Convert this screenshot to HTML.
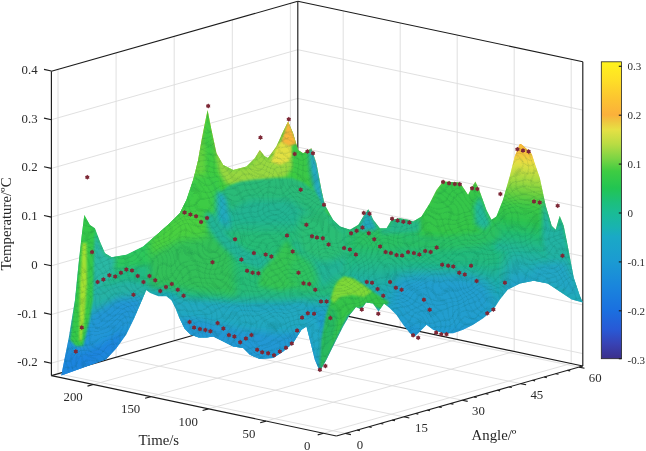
<!DOCTYPE html>
<html><head><meta charset="utf-8"><title>Temperature surface</title>
<style>
html,body{margin:0;padding:0;background:#fff;}
svg{display:block}
.g{stroke:#dcdcdc;stroke-width:0.9;fill:none}
.b{stroke:#1c1c1c;stroke-width:1.15;fill:none;stroke-linecap:butt}
.t{font-family:"Liberation Serif",serif;font-size:12.8px;fill:#2a2a2a}
.c{font-family:"Liberation Serif",serif;font-size:11px;fill:#2a2a2a}
.l{font-family:"Liberation Serif",serif;font-size:14.8px;fill:#262626}
</style></head><body>
<svg width="646" height="451" viewBox="0 0 646 451">
<defs>
<linearGradient id="cbg" x1="0" y1="0" x2="0" y2="1"><stop offset="0.0000" stop-color="#fff31c"/><stop offset="0.0640" stop-color="#fede27"/><stop offset="0.1215" stop-color="#fcc530"/><stop offset="0.1790" stop-color="#fbb03b"/><stop offset="0.1987" stop-color="#f0c43e"/><stop offset="0.2282" stop-color="#e6e044"/><stop offset="0.2775" stop-color="#b9dc43"/><stop offset="0.3268" stop-color="#7ad444"/><stop offset="0.3678" stop-color="#3fcc42"/><stop offset="0.4253" stop-color="#22c552"/><stop offset="0.4745" stop-color="#1cbf7d"/><stop offset="0.5074" stop-color="#1abc94"/><stop offset="0.5567" stop-color="#19b3b0"/><stop offset="0.5895" stop-color="#1aa9c6"/><stop offset="0.6716" stop-color="#1b9bd2"/><stop offset="0.7537" stop-color="#1a86dc"/><stop offset="0.8358" stop-color="#1a70e0"/><stop offset="0.9015" stop-color="#2859d6"/><stop offset="0.9507" stop-color="#3842b4"/><stop offset="1.0000" stop-color="#3b2f8a"/></linearGradient>

<clipPath id="sc"><polygon points="84.3,214.9 89.9,224.9 94.9,228.2 99.9,241.5 104.9,253.2 111.6,257.2 126.5,254.8 143.2,246.5 156.5,234.9 169.8,223.2 179.8,213.2 186.4,199.9 193.1,179.9 198.1,160.0 201.6,139.9 204.5,125.0 207.6,110.0 211.5,130.0 216.5,153.2 223.2,164.9 233.2,169.9 246.5,166.5 254.8,158.2 259.8,149.9 264.8,156.6 268.0,158.0 276.4,146.6 283.1,131.6 288.1,121.6 293.1,133.3 298.1,149.9 303.1,153.2 311.4,148.2 316.4,163.2 321.4,189.8 324.7,204.8 333.0,219.8 340.0,226.5 350.0,229.8 358.3,224.8 363.3,216.5 368.3,209.2 373.3,219.8 379.9,228.2 386.6,228.2 391.6,219.8 399.9,218.2 408.2,219.8 413.2,221.5 421.5,216.5 429.8,203.2 436.5,189.9 443.1,181.6 459.8,182.6 464.8,189.9 468.1,194.9 471.4,188.2 475.4,181.6 479.8,191.5 486.4,209.9 491.4,219.8 496.4,216.5 503.0,199.9 509.7,176.6 514.7,156.6 519.7,144.0 521.0,144.0 528.0,150.0 531.8,154.0 534.7,163.3 539.8,177.9 545.7,205.8 551.7,225.8 555.7,229.8 559.7,215.8 563.7,225.8 567.7,245.7 573.7,277.6 579.7,295.6 582.9,302.4 571.7,299.6 559.7,291.6 547.7,283.6 533.8,280.8 519.8,283.6 507.8,289.6 499.9,299.6 493.1,309.9 483.1,318.2 473.1,324.8 463.1,329.8 453.1,333.2 443.1,333.2 433.2,329.8 426.5,324.8 419.9,331.5 414.9,336.5 409.9,333.2 403.2,324.8 396.6,314.9 389.9,308.2 384.0,303.5 378.5,311.5 373.0,303.5 366.0,302.5 361.5,309.5 356.0,307.0 349.7,314.9 343.1,326.5 334.7,343.1 326.4,359.8 319.8,371.4 314.8,359.8 309.8,339.8 306.5,326.5 301.5,329.8 293.1,343.1 283.2,351.5 273.2,358.1 259.9,359.1 249.9,354.8 243.2,348.1 233.2,346.5 223.3,341.5 213.3,336.5 206.6,337.4 198.6,337.4 190.5,334.4 184.5,328.4 179.5,318.3 175.5,308.2 171.4,300.2 166.4,296.2 158.4,296.2 150.3,293.1 146.3,290.1 140.2,304.2 134.2,318.3 126.2,334.4 116.1,348.5 106.0,359.5 87.6,366.0 61.3,375.6 68.8,337.6 75.0,300.0 78.3,266.5 81.6,236.5"/></clipPath>
<filter id="b1" x="-30%" y="-30%" width="160%" height="160%"><feGaussianBlur stdDeviation="0.8"/></filter>
<filter id="b2" x="-30%" y="-30%" width="160%" height="160%"><feGaussianBlur stdDeviation="2"/></filter>
<filter id="b3" x="-30%" y="-30%" width="160%" height="160%"><feGaussianBlur stdDeviation="3.5"/></filter>
<filter id="b6" x="-30%" y="-30%" width="160%" height="160%"><feGaussianBlur stdDeviation="6"/></filter>
<pattern id="h1" width="10" height="6.2" patternUnits="userSpaceOnUse" patternTransform="rotate(-20)"><line x1="0" y1="2" x2="10" y2="2" stroke="#0b4a3a" stroke-width="0.6"/></pattern>
<pattern id="h2" width="10" height="6.8" patternUnits="userSpaceOnUse" patternTransform="rotate(60)"><line x1="0" y1="2" x2="10" y2="2" stroke="#0b4a3a" stroke-width="0.6"/></pattern>
<pattern id="h3" width="10" height="5.6" patternUnits="userSpaceOnUse" patternTransform="rotate(-58)"><line x1="0" y1="2" x2="10" y2="2" stroke="#0b4a3a" stroke-width="0.6"/></pattern>
<filter id="wob" x="0" y="0" width="100%" height="100%"><feTurbulence type="fractalNoise" baseFrequency="0.03" numOctaves="2" seed="7" result="n"/><feDisplacementMap in="SourceGraphic" in2="n" scale="36" xChannelSelector="R" yChannelSelector="G"/></filter>
<linearGradient id="pk3" x1="532" y1="144" x2="514" y2="292" gradientUnits="userSpaceOnUse"><stop offset="0.0000" stop-color="#f8b83a"/><stop offset="0.0676" stop-color="#f8c23a"/><stop offset="0.1284" stop-color="#e8e044"/><stop offset="0.1824" stop-color="#c8de42"/><stop offset="0.2500" stop-color="#a0da40"/><stop offset="0.3311" stop-color="#6cd040"/><stop offset="0.4189" stop-color="#3cc846"/><stop offset="0.5270" stop-color="#2cc250"/><stop offset="0.6216" stop-color="#22bc74"/><stop offset="0.7162" stop-color="#20b498"/><stop offset="0.8108" stop-color="#20aeb0"/><stop offset="0.9054" stop-color="#20a4c6"/><stop offset="1.0000" stop-color="#209ed0"/></linearGradient>
<linearGradient id="base" x1="0" y1="100" x2="0" y2="380" gradientUnits="userSpaceOnUse"><stop offset="0.0357" stop-color="#fff31c"/><stop offset="0.1250" stop-color="#fcc530"/><stop offset="0.1786" stop-color="#fbb03b"/><stop offset="0.2321" stop-color="#e6e044"/><stop offset="0.3036" stop-color="#9cd843"/><stop offset="0.3679" stop-color="#45cc42"/><stop offset="0.4464" stop-color="#2ec450"/><stop offset="0.5107" stop-color="#28c066"/><stop offset="0.5786" stop-color="#23b984"/><stop offset="0.6429" stop-color="#20b0a2"/><stop offset="0.7143" stop-color="#1fa6c0"/><stop offset="0.7857" stop-color="#209cd0"/><stop offset="0.8571" stop-color="#2090d8"/><stop offset="0.9286" stop-color="#1f84de"/><stop offset="1.0000" stop-color="#1a70e0"/></linearGradient>

</defs>
<rect width="646" height="451" fill="#fff"/>
<line x1="323.5" y1="433.3" x2="571.2" y2="363.5" class="g"/>
<line x1="571.2" y1="363.5" x2="571.2" y2="59.2" class="g"/>
<line x1="265.9" y1="421.1" x2="514.2" y2="351.5" class="g"/>
<line x1="514.2" y1="351.5" x2="514.2" y2="47.2" class="g"/>
<line x1="208.4" y1="408.9" x2="457.2" y2="339.4" class="g"/>
<line x1="457.2" y1="339.4" x2="457.2" y2="35.1" class="g"/>
<line x1="150.8" y1="396.7" x2="400.2" y2="327.3" class="g"/>
<line x1="400.2" y1="327.3" x2="400.2" y2="23.0" class="g"/>
<line x1="93.3" y1="384.5" x2="343.2" y2="315.2" class="g"/>
<line x1="343.2" y1="315.2" x2="343.2" y2="10.9" class="g"/>
<line x1="345.5" y1="433.4" x2="58.0" y2="373.7" class="g"/>
<line x1="58.0" y1="373.7" x2="58.0" y2="69.4" class="g"/>
<line x1="403.9" y1="416.8" x2="116.1" y2="357.2" class="g"/>
<line x1="116.1" y1="357.2" x2="116.1" y2="52.9" class="g"/>
<line x1="462.3" y1="400.2" x2="174.2" y2="340.7" class="g"/>
<line x1="174.2" y1="340.7" x2="174.2" y2="36.4" class="g"/>
<line x1="520.7" y1="383.6" x2="232.3" y2="324.2" class="g"/>
<line x1="232.3" y1="324.2" x2="232.3" y2="19.9" class="g"/>
<line x1="579.1" y1="367.1" x2="290.4" y2="307.7" class="g"/>
<line x1="290.4" y1="307.7" x2="290.4" y2="3.4" class="g"/>
<line x1="51.4" y1="363.2" x2="297.8" y2="293.2" class="g"/>
<line x1="297.8" y1="293.2" x2="582.8" y2="353.6" class="g"/>
<line x1="51.4" y1="314.5" x2="297.8" y2="244.5" class="g"/>
<line x1="297.8" y1="244.5" x2="582.8" y2="304.9" class="g"/>
<line x1="51.4" y1="265.8" x2="297.8" y2="195.8" class="g"/>
<line x1="297.8" y1="195.8" x2="582.8" y2="256.2" class="g"/>
<line x1="51.4" y1="217.1" x2="297.8" y2="147.1" class="g"/>
<line x1="297.8" y1="147.1" x2="582.8" y2="207.5" class="g"/>
<line x1="51.4" y1="168.4" x2="297.8" y2="98.4" class="g"/>
<line x1="297.8" y1="98.4" x2="582.8" y2="158.8" class="g"/>
<line x1="51.4" y1="119.7" x2="297.8" y2="49.7" class="g"/>
<line x1="297.8" y1="49.7" x2="582.8" y2="110.1" class="g"/>
<line x1="51.4" y1="375.6" x2="51.4" y2="71.3" class="b"/>
<line x1="51.4" y1="71.3" x2="297.8" y2="1.3" class="b"/>
<line x1="297.8" y1="1.3" x2="582.8" y2="61.7" class="b"/>
<line x1="582.8" y1="61.7" x2="582.8" y2="366.0" class="b"/>
<line x1="297.8" y1="305.6" x2="297.8" y2="1.3" class="b"/>
<line x1="51.4" y1="375.6" x2="297.8" y2="305.6" class="b"/>
<line x1="297.8" y1="305.6" x2="582.8" y2="366.0" class="b"/>
<line x1="51.4" y1="375.6" x2="336.4" y2="436.0" class="b"/>
<line x1="336.4" y1="436.0" x2="582.8" y2="366.0" class="b"/>
<line x1="51.4" y1="363.2" x2="44.0" y2="361.6" class="b"/>
<line x1="51.4" y1="314.5" x2="44.0" y2="312.9" class="b"/>
<line x1="51.4" y1="265.8" x2="44.0" y2="264.2" class="b"/>
<line x1="51.4" y1="217.1" x2="44.0" y2="215.5" class="b"/>
<line x1="51.4" y1="168.4" x2="44.0" y2="166.8" class="b"/>
<line x1="51.4" y1="119.7" x2="44.0" y2="118.1" class="b"/>
<line x1="51.4" y1="71.0" x2="44.0" y2="69.4" class="b"/>
<line x1="323.5" y1="433.3" x2="317.7" y2="434.9" class="b"/>
<line x1="265.9" y1="421.1" x2="260.2" y2="422.7" class="b"/>
<line x1="208.4" y1="408.9" x2="202.6" y2="410.5" class="b"/>
<line x1="150.8" y1="396.7" x2="145.1" y2="398.3" class="b"/>
<line x1="93.3" y1="384.5" x2="87.5" y2="386.1" class="b"/>
<line x1="345.5" y1="433.4" x2="350.9" y2="434.6" class="b"/>
<line x1="357.2" y1="430.1" x2="359.9" y2="430.7" class="b"/>
<line x1="368.9" y1="426.8" x2="371.6" y2="427.4" class="b"/>
<line x1="380.5" y1="423.5" x2="383.3" y2="424.0" class="b"/>
<line x1="392.2" y1="420.1" x2="395.0" y2="420.7" class="b"/>
<line x1="403.9" y1="416.8" x2="409.3" y2="418.0" class="b"/>
<line x1="415.6" y1="413.5" x2="418.3" y2="414.1" class="b"/>
<line x1="427.3" y1="410.2" x2="430.0" y2="410.8" class="b"/>
<line x1="438.9" y1="406.9" x2="441.7" y2="407.4" class="b"/>
<line x1="450.6" y1="403.6" x2="453.4" y2="404.1" class="b"/>
<line x1="462.3" y1="400.2" x2="467.7" y2="401.4" class="b"/>
<line x1="474.0" y1="396.9" x2="476.7" y2="397.5" class="b"/>
<line x1="485.7" y1="393.6" x2="488.4" y2="394.2" class="b"/>
<line x1="497.3" y1="390.3" x2="500.1" y2="390.9" class="b"/>
<line x1="509.0" y1="387.0" x2="511.8" y2="387.5" class="b"/>
<line x1="520.7" y1="383.6" x2="526.1" y2="384.8" class="b"/>
<line x1="532.4" y1="380.3" x2="535.1" y2="380.9" class="b"/>
<line x1="544.1" y1="377.0" x2="546.8" y2="377.6" class="b"/>
<line x1="555.7" y1="373.7" x2="558.5" y2="374.3" class="b"/>
<line x1="567.4" y1="370.4" x2="570.2" y2="370.9" class="b"/>
<line x1="579.1" y1="367.1" x2="584.5" y2="368.2" class="b"/>
<g clip-path="url(#sc)">
<rect x="50" y="100" width="540" height="280" fill="url(#base)"/>
<polygon points="150.0,250.0 170.0,222.0 186.0,200.0 195.0,170.0 203.0,105.0 212.0,105.0 220.0,160.0 240.0,170.0 262.0,150.0 270.0,158.0 285.0,120.0 295.0,120.0 300.0,150.0 312.0,146.0 326.0,205.0 330.0,250.0" fill="#3ccc42" filter="url(#b3)"/>
<polygon points="217.0,156.0 232.0,170.0 248.0,166.0 256.0,157.0 260.0,149.0 265.0,157.0 269.0,158.0 277.0,146.0 283.0,140.0 292.0,148.0 293.0,166.0 286.0,177.0 266.0,181.0 244.0,187.0 226.0,184.0 219.0,172.0" fill="#98d840" filter="url(#b2)"/>
<polygon points="271.0,162.0 277.0,146.0 281.5,141.0 290.0,144.0 293.0,151.0 289.0,161.0 280.0,165.0" fill="#e2e042" filter="url(#b1)"/>
<polygon points="281.0,142.0 285.0,130.0 288.0,118.0 293.5,133.0 297.0,144.0 290.0,146.0" fill="#f8b63a" filter="url(#b1)"/>
<polygon points="292.0,147.0 297.0,144.0 299.0,150.0 303.0,153.5 310.0,150.0 313.0,170.0 316.0,196.0 304.0,184.0 294.0,172.0" fill="#3ac846" filter="url(#b1)"/>
<polygon points="197.0,162.0 202.0,138.0 205.0,150.0 206.0,190.0 200.0,214.0 187.0,214.0 191.0,195.0" fill="#62d23e" filter="url(#b2)"/>
<polygon points="309.0,152.0 312.0,146.0 318.0,163.0 324.0,200.0 327.0,209.0 320.0,207.0 314.0,190.0 310.0,168.0" fill="#20a8c6" filter="url(#b2)"/>
<polygon points="207.0,240.0 210.0,214.0 214.0,203.0 220.0,193.0 228.0,186.0 240.0,181.5 255.0,179.5 275.0,178.0 292.0,178.0 303.0,182.0 312.0,189.0 319.0,198.0 325.0,210.0 332.0,222.0 340.0,232.0 340.0,244.0" fill="#29bb78" filter="url(#b1)"/>
<polygon points="215.0,245.0 225.0,212.0 250.0,200.0 290.0,200.0 315.0,218.0 330.0,245.0" fill="#22b492" filter="url(#b3)"/>
<polygon points="211.0,198.0 218.0,190.0 226.0,198.0 232.0,232.0 222.0,234.0 213.0,220.0" fill="#20aac0" filter="url(#b2)"/>
<polygon points="98.0,236.0 105.0,250.0 112.0,255.0 127.0,252.0 143.0,244.0 157.0,232.0 170.0,220.0 180.0,210.0 187.0,197.0 192.0,180.0 215.0,180.0 215.0,245.0 190.0,258.0 160.0,266.0 135.0,270.0 118.0,272.0 100.0,272.0" fill="#2ec85c" filter="url(#b3)"/>
<polygon points="150.0,238.0 160.0,228.0 172.0,218.0 182.0,206.0 189.0,192.0 194.0,176.0 214.0,176.0 214.0,215.0 196.0,228.0 176.0,240.0 160.0,250.0" fill="#3ccc44" filter="url(#b3)"/>
<polygon points="100.0,272.0 135.0,268.0 160.0,266.0 190.0,258.0 215.0,250.0 215.0,275.0 180.0,290.0 150.0,287.0 128.0,282.0 100.0,292.0" fill="#24b982" filter="url(#b3)"/>
<polygon points="92.0,230.0 100.0,243.0 106.0,255.0 116.0,258.0 112.0,278.0 96.0,290.0 90.0,300.0 88.0,260.0" fill="#2ab8a4" filter="url(#b2)"/>
<polygon points="92.0,290.0 110.0,284.0 128.0,282.0 150.0,288.0 146.0,300.0 120.0,320.0 92.0,320.0" fill="#26b2a4" filter="url(#b3)"/>
<polygon points="60.0,380.0 70.0,340.0 78.0,338.0 86.0,345.0 92.0,312.0 118.0,298.0 146.0,296.0 140.0,312.0 120.0,345.0 90.0,368.0" fill="#2096d6" filter="url(#b3)"/>
<polygon points="60.0,380.0 66.0,352.0 80.0,352.0 100.0,345.0 125.0,330.0 118.0,350.0 90.0,368.0" fill="#1f84de" filter="url(#b3)"/>
<polygon points="84.0,212.0 90.0,224.0 95.0,230.0 94.0,250.0 93.0,300.0 89.0,322.0 83.0,346.0 76.0,346.0 70.0,340.0 74.0,300.0 78.0,266.0 81.0,236.0" fill="#34c84a" filter="url(#b1)"/>
<polygon points="82.4,243.0 86.4,243.0 87.0,282.0 84.5,318.0 81.5,341.0 79.2,341.0 79.4,318.0 80.0,285.0" fill="#a4e032" filter="url(#b1)"/>
<polygon points="195.0,228.0 330.0,228.0 345.0,240.0 345.0,300.0 300.0,300.0 180.0,300.0 175.0,270.0" fill="#28bc76" filter="url(#b6)"/>
<polygon points="150.0,238.0 178.0,214.0 203.0,214.0 214.0,232.0 232.0,250.0 236.0,296.0 205.0,292.0 180.0,288.0 150.0,286.0" fill="#30c058" filter="url(#b3)"/>
<polygon points="150.0,240.0 165.0,225.0 178.0,213.0 190.0,211.0 203.0,215.0 210.0,226.0 205.0,238.0 180.0,240.0 160.0,250.0 150.0,256.0" fill="#4ad040" filter="url(#b3)"/>
<polygon points="205.0,212.0 214.0,214.0 228.0,236.0 246.0,250.0 268.0,258.0 282.0,250.0 282.0,262.0 262.0,270.0 240.0,262.0 222.0,246.0 208.0,228.0" fill="#22b496" filter="url(#b2)"/>
<polygon points="287.0,240.0 296.0,252.0 306.0,262.0 300.0,286.0 280.0,290.0 258.0,286.0 262.0,270.0 274.0,256.0" fill="#34c452" filter="url(#b2)"/>
<polygon points="292.0,244.0 300.0,236.0 330.0,232.0 345.0,240.0 345.0,275.0 330.0,282.0 322.0,290.0 312.0,270.0 302.0,256.0" fill="#22b496" filter="url(#b3)"/>
<polygon points="176.0,298.0 200.0,302.0 240.0,308.0 280.0,308.0 305.0,302.0 312.0,330.0 300.0,345.0 260.0,362.0 220.0,345.0 185.0,340.0 176.0,320.0" fill="#20a8c0" filter="url(#b3)"/>
<polygon points="178.0,318.0 200.0,320.0 240.0,330.0 280.0,334.0 306.0,330.0 312.0,345.0 260.0,365.0 220.0,350.0 185.0,340.0" fill="#2098d4" filter="url(#b3)"/>
<polygon points="306.0,322.0 314.0,312.0 322.0,330.0 320.0,372.0 314.0,360.0 309.0,340.0" fill="#20a8c6" filter="url(#b2)"/>
<polygon points="320.0,372.0 322.0,340.0 326.0,318.0 331.0,298.0 336.0,284.0 344.0,277.0 354.0,279.0 366.0,287.0 380.0,296.0 390.0,302.0 382.0,310.0 368.0,304.0 358.0,309.0 348.0,316.0 340.0,332.0 330.0,352.0" fill="#34c44a" filter="url(#b1)"/>
<polygon points="320.0,372.0 322.0,340.0 326.0,320.0 330.0,306.0 338.0,312.0 336.0,330.0 330.0,350.0" fill="#28b860" filter="url(#b2)"/>
<polygon points="331.0,299.0 334.0,288.0 338.0,281.0 344.0,276.5 353.0,278.5 364.0,285.5 372.0,292.0 364.0,297.0 352.0,295.0 340.0,297.0 334.0,303.0" fill="#7ed838" filter="url(#b1)"/>
<polygon points="415.0,224.0 422.0,214.0 430.0,202.0 437.0,188.0 443.0,179.0 460.0,180.0 468.0,192.0 475.0,179.0 481.0,192.0 487.0,210.0 492.0,222.0 498.0,216.0 504.0,200.0 508.0,186.0 512.0,200.0 508.0,232.0 480.0,240.0 450.0,242.0 420.0,240.0" fill="#34c648" filter="url(#b2)"/>
<polygon points="400.0,236.0 450.0,240.0 500.0,236.0 520.0,228.0 545.0,232.0 545.0,256.0 500.0,262.0 450.0,262.0 400.0,256.0" fill="#22ba7c" filter="url(#b3)"/>
<polygon points="505,300 505,240 550,240 550,300" fill="url(#pk3)" filter="url(#b6)"/>
<polygon points="495,222 503,200 510,176 515,156 520,142 523,142 528,150 532,154 535,163 540,178 546,206 550,222 550,250 495,250" fill="url(#pk3)" filter="url(#b2)"/>
<polygon points="543.0,196.0 552.0,226.0 556.0,230.0 560.0,214.0 564.0,226.0 568.0,246.0 574.0,278.0 584.0,303.0 560.0,292.0 548.0,270.0 542.0,236.0" fill="#22b2a2" filter="url(#b2)"/>
<polygon points="548.0,262.0 566.0,262.0 574.0,278.0 584.0,303.0 560.0,292.0 545.0,283.0 530.0,280.0 534.0,268.0" fill="#20a6c4" filter="url(#b3)"/>
<polygon points="360.0,224.0 364.0,214.0 368.0,207.0 373.0,219.0 378.0,230.0 360.0,232.0" fill="#22a8bc" filter="url(#b2)"/>
<polygon points="328.0,214.0 340.0,226.0 350.0,230.0 358.0,226.0 358.0,240.0 330.0,240.0" fill="#22b496" filter="url(#b2)"/>
<polygon points="380.0,228.0 387.0,228.0 392.0,219.0 400.0,217.0 413.0,221.0 420.0,218.0 420.0,232.0 380.0,236.0" fill="#26b88a" filter="url(#b2)"/>
<polygon points="345.0,229.0 360.0,233.0 400.0,237.0 440.0,239.0 480.0,233.0 500.0,222.0 500.0,238.0 480.0,246.0 440.0,250.0 400.0,248.0 360.0,244.0 345.0,240.0" fill="#2cc062" filter="url(#b3)"/>
<polygon points="395.0,277.0 420.0,274.0 460.0,274.0 488.0,282.0 494.0,305.0 480.0,320.0 450.0,334.0 420.0,330.0 400.0,318.0 392.0,300.0" fill="#209ecf" filter="url(#b6)"/>
<polygon points="474.0,206.0 480.0,196.0 486.0,212.0 491.0,224.0 484.0,230.0 475.0,224.0" fill="#22b89a" filter="url(#b2)"/>
<polygon points="300.0,215.0 322.0,212.0 334.0,222.0 346.0,232.0 346.0,256.0 325.0,262.0 304.0,256.0 296.0,240.0" fill="#2abe74" filter="url(#b3)"/>
<polygon points="290.0,262.0 300.0,256.0 312.0,262.0 318.0,282.0 306.0,290.0 292.0,282.0" fill="#2ec260" filter="url(#b3)"/>
<rect x="30" y="80" width="580" height="320" fill="url(#h1)" opacity="0.24" filter="url(#wob)"/>
<rect x="30" y="80" width="580" height="320" fill="url(#h2)" opacity="0.24" filter="url(#wob)"/>
</g>
<g fill="#7d2836"><polygon id="mk" points="87.3,174.8 86.4,175.8 85.1,176.1 85.5,177.3 85.1,178.6 86.4,178.8 87.3,179.8 88.2,178.8 89.5,178.6 89.0,177.3 89.5,176.1 88.2,175.8"/><use href="#mk" x="4.8" y="74.8"/><use href="#mk" x="-5.5" y="150.3"/><use href="#mk" x="-11.5" y="174.1"/><use href="#mk" x="10.3" y="104.7"/><use href="#mk" x="16.1" y="102.1"/><use href="#mk" x="22.1" y="97.9"/><use href="#mk" x="27.9" y="99.1"/><use href="#mk" x="33.6" y="95.4"/><use href="#mk" x="39.1" y="92.1"/><use href="#mk" x="44.7" y="93.1"/><use href="#mk" x="50.4" y="98.6"/><use href="#mk" x="56.2" y="104.7"/><use href="#mk" x="62.2" y="98.6"/><use href="#mk" x="68.0" y="102.9"/><use href="#mk" x="73.0" y="113.7"/><use href="#mk" x="78.7" y="109.7"/><use href="#mk" x="84.5" y="106.7"/><use href="#mk" x="90.5" y="112.4"/><use href="#mk" x="96.3" y="118.4"/><use href="#mk" x="46.2" y="117.4"/><use href="#mk" x="97.3" y="35.2"/><use href="#mk" x="103.1" y="37.2"/><use href="#mk" x="108.8" y="39.0"/><use href="#mk" x="113.8" y="44.7"/><use href="#mk" x="119.8" y="40.7"/><use href="#mk" x="120.9" y="-71.3"/><use href="#mk" x="173.2" y="-39.7"/><use href="#mk" x="201.5" y="-58.0"/><use href="#mk" x="207.4" y="-23.4"/><use href="#mk" x="220.1" y="-25.7"/><use href="#mk" x="225.7" y="-24.1"/><use href="#mk" x="213.4" y="12.5"/><use href="#mk" x="236.7" y="27.5"/><use href="#mk" x="219.1" y="47.5"/><use href="#mk" x="147.8" y="62.0"/><use href="#mk" x="154.1" y="82.3"/><use href="#mk" x="166.6" y="75.8"/><use href="#mk" x="178.4" y="77.1"/><use href="#mk" x="184.1" y="79.1"/><use href="#mk" x="159.8" y="93.4"/><use href="#mk" x="165.3" y="95.4"/><use href="#mk" x="171.1" y="95.9"/><use href="#mk" x="125.2" y="84.9"/><use href="#mk" x="199.7" y="58.3"/><use href="#mk" x="205.4" y="74.1"/><use href="#mk" x="211.2" y="95.4"/><use href="#mk" x="216.2" y="105.9"/><use href="#mk" x="222.0" y="106.7"/><use href="#mk" x="228.0" y="112.4"/><use href="#mk" x="233.7" y="124.2"/><use href="#mk" x="239.3" y="124.2"/><use href="#mk" x="224.7" y="59.0"/><use href="#mk" x="229.7" y="60.3"/><use href="#mk" x="235.5" y="61.0"/><use href="#mk" x="241.3" y="67.1"/><use href="#mk" x="256.8" y="70.8"/><use href="#mk" x="262.6" y="72.1"/><use href="#mk" x="268.6" y="77.3"/><use href="#mk" x="263.8" y="56.0"/><use href="#mk" x="269.3" y="53.5"/><use href="#mk" x="102.3" y="144.7"/><use href="#mk" x="106.8" y="150.3"/><use href="#mk" x="112.6" y="151.8"/><use href="#mk" x="118.1" y="152.7"/><use href="#mk" x="123.1" y="154.0"/><use href="#mk" x="130.3" y="145.8"/><use href="#mk" x="136.1" y="151.1"/><use href="#mk" x="141.6" y="157.8"/><use href="#mk" x="147.1" y="159.1"/><use href="#mk" x="152.9" y="164.9"/><use href="#mk" x="158.6" y="161.1"/><use href="#mk" x="164.2" y="157.8"/><use href="#mk" x="169.9" y="172.4"/><use href="#mk" x="174.9" y="174.9"/><use href="#mk" x="180.9" y="175.9"/><use href="#mk" x="186.7" y="177.9"/><use href="#mk" x="192.5" y="174.1"/><use href="#mk" x="198.7" y="170.4"/><use href="#mk" x="204.5" y="166.1"/><use href="#mk" x="209.8" y="153.3"/><use href="#mk" x="214.8" y="140.3"/><use href="#mk" x="220.5" y="136.0"/><use href="#mk" x="226.8" y="136.5"/><use href="#mk" x="243.1" y="140.8"/><use href="#mk" x="232.6" y="192.4"/><use href="#mk" x="238.1" y="188.7"/><use href="#mk" x="276.5" y="35.7"/><use href="#mk" x="282.2" y="36.5"/><use href="#mk" x="304.8" y="41.5"/><use href="#mk" x="310.3" y="43.3"/><use href="#mk" x="316.1" y="44.5"/><use href="#mk" x="322.1" y="45.3"/><use href="#mk" x="275.2" y="50.3"/><use href="#mk" x="281.5" y="56.0"/><use href="#mk" x="287.0" y="62.0"/><use href="#mk" x="292.8" y="69.1"/><use href="#mk" x="298.3" y="74.8"/><use href="#mk" x="303.6" y="75.8"/><use href="#mk" x="309.3" y="77.8"/><use href="#mk" x="314.8" y="78.3"/><use href="#mk" x="320.8" y="74.8"/><use href="#mk" x="326.6" y="75.8"/><use href="#mk" x="332.1" y="77.3"/><use href="#mk" x="337.9" y="73.6"/><use href="#mk" x="343.4" y="74.6"/><use href="#mk" x="349.4" y="70.3"/><use href="#mk" x="354.9" y="87.4"/><use href="#mk" x="360.9" y="88.4"/><use href="#mk" x="366.0" y="89.1"/><use href="#mk" x="372.0" y="95.4"/><use href="#mk" x="377.5" y="97.1"/><use href="#mk" x="383.8" y="88.4"/><use href="#mk" x="389.3" y="103.7"/><use href="#mk" x="417.6" y="105.4"/><use href="#mk" x="279.5" y="104.7"/><use href="#mk" x="284.8" y="105.4"/><use href="#mk" x="290.3" y="111.7"/><use href="#mk" x="296.0" y="118.4"/><use href="#mk" x="302.8" y="104.7"/><use href="#mk" x="308.6" y="110.4"/><use href="#mk" x="314.3" y="112.4"/><use href="#mk" x="336.6" y="122.4"/><use href="#mk" x="342.4" y="132.5"/><use href="#mk" x="274.5" y="132.2"/><use href="#mk" x="406.1" y="132.2"/><use href="#mk" x="291.0" y="136.5"/><use href="#mk" x="325.8" y="158.0"/><use href="#mk" x="330.9" y="160.4"/><use href="#mk" x="348.9" y="155.3"/><use href="#mk" x="354.0" y="157.0"/><use href="#mk" x="359.2" y="157.0"/><use href="#mk" x="400.0" y="135.9"/><use href="#mk" x="355.8" y="4.6"/><use href="#mk" x="361.8" y="5.9"/><use href="#mk" x="367.5" y="6.6"/><use href="#mk" x="372.5" y="6.9"/><use href="#mk" x="384.8" y="10.9"/><use href="#mk" x="390.1" y="11.6"/><use href="#mk" x="413.1" y="16.6"/><use href="#mk" x="430.1" y="-28.0"/><use href="#mk" x="435.7" y="-26.7"/><use href="#mk" x="441.4" y="-25.7"/><use href="#mk" x="446.7" y="24.2"/><use href="#mk" x="452.4" y="25.2"/><use href="#mk" x="470.4" y="28.5"/><use href="#mk" x="475.2" y="78.4"/></g>
<text x="37.6" y="366.2" text-anchor="end" class="t">-0.2</text>
<text x="37.6" y="317.5" text-anchor="end" class="t">-0.1</text>
<text x="37.6" y="268.8" text-anchor="end" class="t">0</text>
<text x="37.6" y="220.1" text-anchor="end" class="t">0.1</text>
<text x="37.6" y="171.4" text-anchor="end" class="t">0.2</text>
<text x="37.6" y="122.7" text-anchor="end" class="t">0.3</text>
<text x="37.6" y="74.0" text-anchor="end" class="t">0.4</text>
<text x="310.5" y="450.0" text-anchor="end" class="t">0</text>
<text x="255.3" y="437.8" text-anchor="end" class="t">50</text>
<text x="197.8" y="425.6" text-anchor="end" class="t">100</text>
<text x="140.2" y="413.4" text-anchor="end" class="t">150</text>
<text x="82.7" y="401.2" text-anchor="end" class="t">200</text>
<text x="356.7" y="448.6" class="t">0</text>
<text x="415.1" y="432.0" class="t">15</text>
<text x="472.0" y="415.4" class="t">30</text>
<text x="530.4" y="398.8" class="t">45</text>
<text x="588.8" y="382.3" class="t">60</text>
<text x="158.8" y="444.8" text-anchor="middle" class="l">Time/s</text>
<text x="494" y="439.5" text-anchor="middle" class="l">Angle/º</text>
<text transform="translate(11.2,224) rotate(-90)" text-anchor="middle" class="l">Temperature/ºC</text>
<rect x="601.3" y="61.8" width="20.3" height="296.9" fill="url(#cbg)" stroke="#262626" stroke-width="0.8"/>
<line x1="618.8" y1="66.3" x2="621.6" y2="66.3" class="b"/>
<text x="627.6" y="70.3" class="c">0.3</text>
<line x1="618.8" y1="115.2" x2="621.6" y2="115.2" class="b"/>
<text x="627.6" y="119.2" class="c">0.2</text>
<line x1="618.8" y1="164.1" x2="621.6" y2="164.1" class="b"/>
<text x="627.6" y="168.2" class="c">0.1</text>
<line x1="618.8" y1="213.0" x2="621.6" y2="213.0" class="b"/>
<text x="627.6" y="217.1" class="c">0</text>
<line x1="618.8" y1="261.9" x2="621.6" y2="261.9" class="b"/>
<text x="627.6" y="266.0" class="c">-0.1</text>
<line x1="618.8" y1="310.8" x2="621.6" y2="310.8" class="b"/>
<text x="627.6" y="314.9" class="c">-0.2</text>
<line x1="618.8" y1="358.7" x2="621.6" y2="358.7" class="b"/>
<text x="627.6" y="363.9" class="c">-0.3</text>
</svg>
</body></html>
